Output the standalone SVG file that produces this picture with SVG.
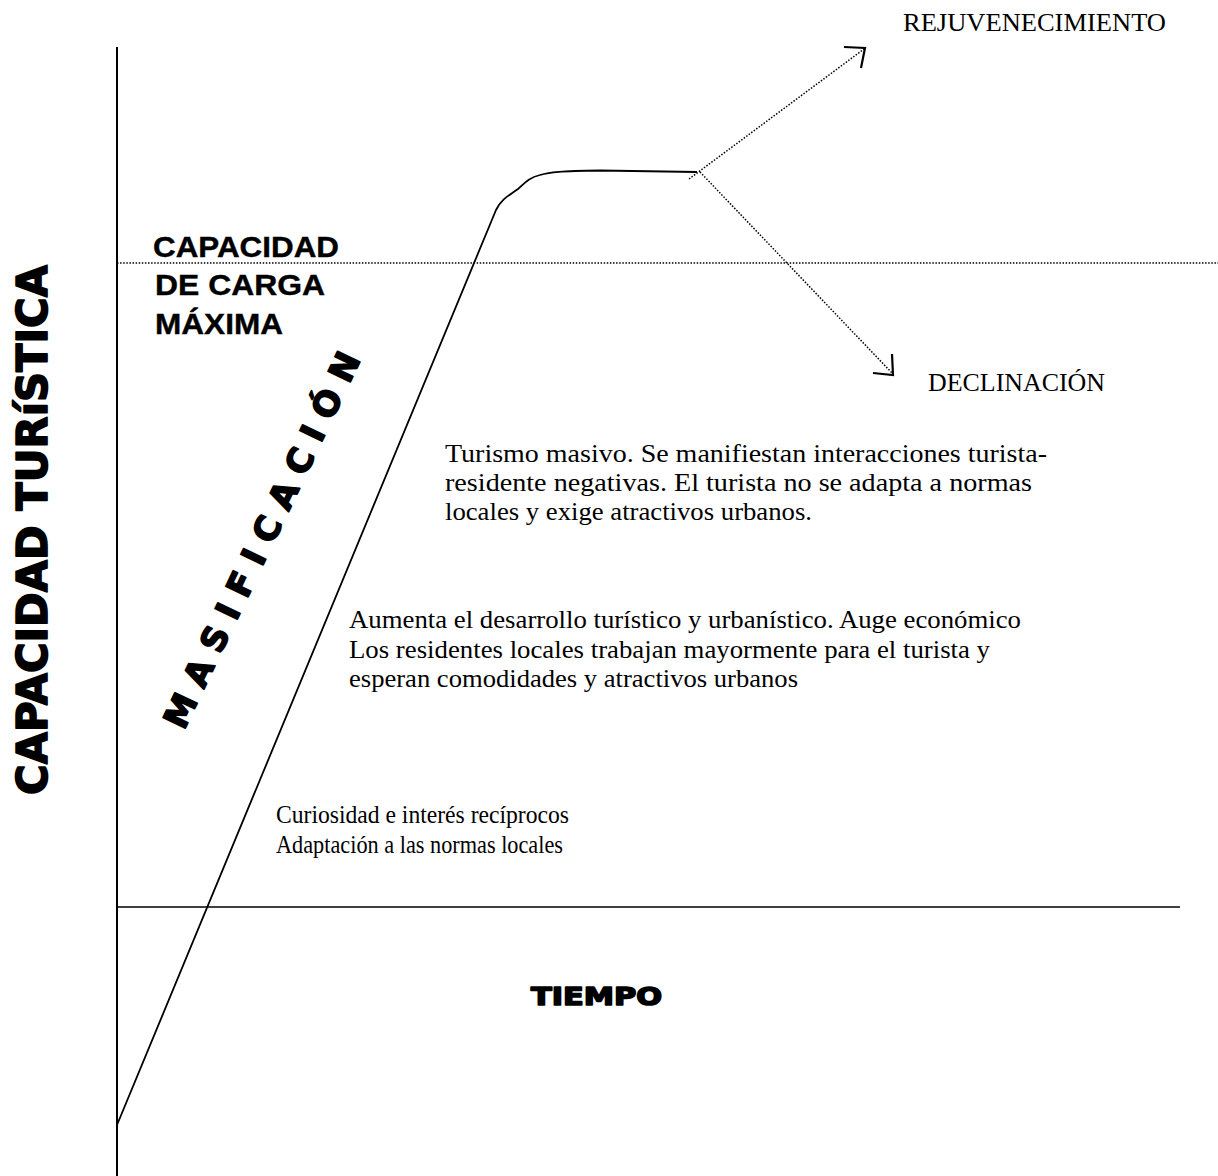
<svg xmlns="http://www.w3.org/2000/svg" width="1218" height="1176" viewBox="0 0 1218 1176">
<style>
.serif{font-family:"Liberation Serif","Times New Roman",serif;font-size:25px;fill:#000}
.heavy{font-family:"DejaVu Sans","Liberation Sans",sans-serif;font-weight:bold;fill:#000;stroke:#000;stroke-width:1.6;stroke-linejoin:round}
.bold{font-family:"Liberation Sans",Arial,sans-serif;font-weight:bold;font-size:30px;fill:#000;stroke:#000;stroke-width:0.4}
.axis{stroke:#000;fill:none}
.dot{stroke:#000;stroke-width:1.5;stroke-dasharray:1.5 1.6;fill:none}
.head{stroke:#000;stroke-width:2.2;fill:none;stroke-linejoin:miter}
</style>
<rect width="1218" height="1176" fill="#fff"/>
<g id="connectors">
  <line class="axis" x1="117" y1="47" x2="117" y2="1176" stroke-width="2"/>
  <line class="axis" x1="117" y1="907" x2="1180" y2="907" stroke-width="1.6"/>
  <line class="dot" x1="117" y1="263" x2="1218" y2="263"/>
  <path id="curve" class="axis" stroke-width="1.8" d="M117,1125 L496,210 C502,198 510,195 518,189 C525,183 528,178 540,175 C550,172 560,171 600,170.5 L697,172"/>
  <line class="dot" x1="689" y1="179" x2="864" y2="49"/>
  <polyline class="head" points="844,47 865,48 861,68"/>
  <line class="dot" x1="700" y1="172" x2="892" y2="373"/>
  <polyline class="head" points="873,373 893,375 892,354"/>
</g>
<g id="ylabel">
  <text class="heavy" font-size="42" transform="translate(47,795) rotate(-90)" x="0" y="0" textLength="530" lengthAdjust="spacingAndGlyphs">CAPACIDAD TURíSTICA</text>
</g>
<g id="xlabel">
  <text class="heavy" font-size="24" x="531" y="1005" textLength="131" lengthAdjust="spacingAndGlyphs">TIEMPO</text>
</g>
<g id="capacidad">
  <text class="bold" x="153" y="257" textLength="186" lengthAdjust="spacingAndGlyphs">CAPACIDAD</text>
  <text class="bold" x="155" y="295" textLength="170" lengthAdjust="spacingAndGlyphs">DE CARGA</text>
  <text class="bold" x="155" y="334" textLength="128" lengthAdjust="spacingAndGlyphs">MÁXIMA</text>
</g>
<g id="masificacion">
  <text class="heavy" font-size="34" transform="translate(184,731) rotate(-64.5)" x="0" y="0" textLength="412" lengthAdjust="spacing">MASIFICACIÓN</text>
</g>
<g id="rejuvenecimiento">
  <text class="serif" x="903" y="31" font-size="20" textLength="263" lengthAdjust="spacingAndGlyphs">REJUVENECIMIENTO</text>
</g>
<g id="declinacion">
  <text class="serif" x="928" y="391" font-size="20" textLength="177" lengthAdjust="spacingAndGlyphs">DECLINACIÓN</text>
</g>
<g id="stage3">
  <text class="serif" x="445" y="462" textLength="602" lengthAdjust="spacingAndGlyphs">Turismo masivo. Se manifiestan interacciones turista-</text>
  <text class="serif" x="445" y="491" textLength="587" lengthAdjust="spacingAndGlyphs">residente negativas. El turista no se adapta a normas</text>
  <text class="serif" x="445" y="520" textLength="367" lengthAdjust="spacingAndGlyphs">locales y exige atractivos urbanos.</text>
</g>
<g id="stage2">
  <text class="serif" x="349" y="628" textLength="672" lengthAdjust="spacingAndGlyphs">Aumenta el desarrollo turístico y urbanístico. Auge económico</text>
  <text class="serif" x="349" y="658" textLength="641" lengthAdjust="spacingAndGlyphs">Los residentes locales trabajan mayormente para el turista y</text>
  <text class="serif" x="349" y="687" textLength="449" lengthAdjust="spacingAndGlyphs">esperan comodidades y atractivos urbanos</text>
</g>
<g id="stage1">
  <text class="serif" font-size="23" x="276" y="823" textLength="293" lengthAdjust="spacingAndGlyphs">Curiosidad e interés recíprocos</text>
  <text class="serif" font-size="23" x="276" y="853" textLength="287" lengthAdjust="spacingAndGlyphs">Adaptación a las normas locales</text>
</g>
</svg>
